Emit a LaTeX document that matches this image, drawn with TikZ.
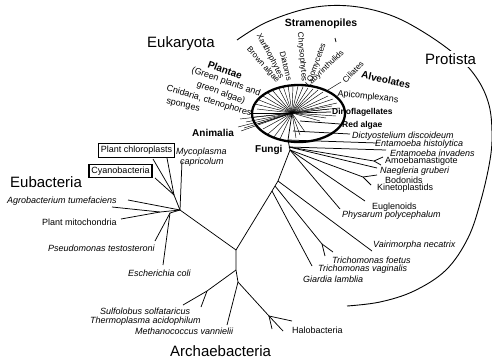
\documentclass[tikz,border=0pt]{standalone}
\usepackage{fontspec}
\setmainfont{Liberation Sans}
\begin{document}
\begin{tikzpicture}[x=1pt,y=-1pt,
  br/.style={line width=0.75pt},
  fan/.style={line width=0.45pt},
  sm/.style={font=\fontsize{9}{9}\selectfont, inner sep=0pt, anchor=west},
  smi/.style={font=\fontsize{9}{9}\selectfont\itshape, inner sep=0pt, anchor=west},
  smb/.style={font=\fontsize{8.5}{8.5}\selectfont\bfseries, inner sep=0pt, anchor=west},
  big/.style={font=\fontsize{15}{15}\selectfont, inner sep=0pt, anchor=west},
  bd/.style={font=\fontsize{10}{10}\selectfont\bfseries, inner sep=0pt},
  rt/.style={font=\fontsize{8}{8}\selectfont, inner sep=0pt},
  rt9/.style={font=\fontsize{9}{9}\selectfont, inner sep=0pt},
  boxed/.style={draw, line width=1.3pt, inner xsep=2.5pt, inner ysep=2.5pt, font=\fontsize{9}{9}\selectfont}
]
\useasboundingbox (0,0) rectangle (492,362);

% ---------- Protista arc ----------
\draw[line width=0.9pt] plot[smooth, tension=0.6] coordinates {(237,40) (267,22) (310,8) (350,6) (390,15) (425,33) (458,57) (478,80) (489,105) (492,133) (490,160) (481,200) (468,238) (446,270) (414,291) (380,302) (347,306)};

% ---------- Archaebacteria ----------
\coordinate (R) at (236,250);
\coordinate (A0) at (236,270);
\coordinate (A1) at (238,282);
\coordinate (S1) at (207,291);
\coordinate (tSul) at (183,305);
\coordinate (tThe) at (201,307);
\coordinate (tMet) at (227,325);
\coordinate (H) at (269,316);
\coordinate (tH1) at (292,321);
\coordinate (tH2) at (283,331);
\coordinate (tH3) at (272,329);
\draw[br] (R) -- (A0) -- (A1) -- (tMet);
\draw[br] (A0) -- (S1) -- (tSul);
\draw[br] (S1) -- (tThe);
\draw[br] (A1) -- (H) -- (tH1);
\draw[br] (H) -- (tH2);
\draw[br] (H) -- (tH3);

% ---------- Eubacteria ----------
\coordinate (E0) at (180,210);
\coordinate (P) at (170,213);
\coordinate (tPse) at (155,241);
\coordinate (tEco) at (163,265);
\coordinate (tAgr) at (128,200);
\coordinate (P2) at (160,212);
\coordinate (tPm) at (112,207);
\coordinate (tPm2) at (121,219);
\coordinate (C) at (174,195);
\coordinate (tC1) at (153,159);
\coordinate (tC2) at (167,158);
\coordinate (tC3) at (155,178);
\coordinate (tMyc) at (182,161);
\draw[br] (R) -- (E0) -- (tAgr);
\draw[br] (E0) -- (P2) -- (tPm);
\draw[br] (P2) -- (tPm2);
\draw[br] (E0) -- (P) -- (tPse);
\draw[br] (P) -- (tEco);
\draw[br] (E0) -- (C) -- (tC1);
\draw[br] (C) -- (tC2);
\draw[br] (C) -- (tC3);
\draw[br] (E0) -- (tMyc);

% ---------- Eukaryota stem ----------
\coordinate (K1) at (272,191);
\coordinate (K1b) at (275,186);
\coordinate (K2) at (278,181);
\coordinate (K3) at (290,150);
\coordinate (K3b) at (289,147);
\coordinate (K4) at (288,140);
\coordinate (O) at (292,113);
\draw[br] (R) -- (K1) -- (K2) -- (K3) -- (K4) -- (O);
\coordinate (tGia) at (312,266);
\draw[br] (K1) -- (tGia);
\coordinate (TF) at (322,244);
\coordinate (tTf1) at (325,256);
\coordinate (tTf2) at (333,252);
\draw[br] (K1b) -- (TF) -- (tTf1);
\draw[br] (TF) -- (tTf2);
\coordinate (tVai) at (372,251);
\draw[br] (K2) -- (tVai);
\coordinate (tPhy) at (340,209);
\draw[br] (K3) -- (tPhy);
\coordinate (tEug) at (365,201);
\draw[br] (K3) -- (tEug);
\coordinate (KF) at (363,177);
\coordinate (tK1) at (377,175);
\coordinate (tK2) at (371,185);
\draw[br] (K3) -- (KF) -- (tK1);
\draw[br] (KF) -- (tK2);
\coordinate (tNae) at (377,168);
\draw[br] (K3b) -- (tNae);
\coordinate (AF) at (374,161);
\coordinate (tAm1) at (383,157);
\coordinate (tAm2) at (381,165);
\draw[br] (K3b) -- (AF) -- (tAm1);
\draw[br] (AF) -- (tAm2);
\coordinate (tEi) at (386,150);
\coordinate (tEh) at (377,143);
\draw[br] (K3b) -- (tEi);
\draw[br] (K4) -- (tEh);
\coordinate (D0) at (293,131);
\coordinate (tDic) at (350,134);
\draw[br] (D0) -- (tDic);
\coordinate (RA0) at (300,121);
\coordinate (tRed) at (340,124);
\draw[br] (RA0) -- (tRed);
\coordinate (tDin) at (331,112);
\draw[br] (O) -- (tDin);

% ---------- dense fan inside the ellipse ----------
\foreach \p in {(238,127),(241,131),(244,128),(240,119),(246,122),(250,113),(254,117),(258,124),(263,129),(268,134),(274,137),(280,139),
                (255,104),(259,100),(263,96),(268,93),(273,91),(257,109),
                (278,87),(283,86),(288,85),(293,85),(298,86),(303,87),(308,88),(313,89),(318,90),(323,92),
                (328,96),(333,99),(337,103),(332,106),(339,108),(329,109),(336,116),(326,118),(320,121),
                (300,135),(305,132),(296,138)}
  \draw[fan] (O) -- \p;
\coordinate (cil1) at (328,90);
\coordinate (cil2) at (341,82);
\draw[fan] (cil1) -- (cil2);
\coordinate (tick1) at (335,38);
\coordinate (tick2) at (336,42);
\draw[line width=0.8pt] (tick1) -- (tick2);

% ---------- big labels ----------
\node[big] (eukl) at (147,44) {Eukaryota};
\node[big] (eubl) at (10,182) {Eubacteria};
\node[big] (arcl) at (170,351) {Archaebacteria};
\node[big, fill=white, inner sep=2pt] (prol) at (423,59) {Protista};

% ---------- bold group labels ----------
\node[bd, font=\fontsize{10.5}{10.5}\selectfont\bfseries] (stra) at (321,24) {Stramenopiles};
\node[bd, anchor=west] (anim) at (192,133) {Animalia};
\node[bd, anchor=west] (fung) at (255,150) {Fungi};
\node[bd, rotate=-20] (plan) at (225,70) {Plantae};
\node[bd, rotate=-13] (alve) at (386,80) {Alveolates};

% ---------- Plantae / Animalia texts ----------
\node[rt9, rotate=-19] (gpl) at (226,82) {(Green plants and};
\node[rt9, rotate=-20] (gal) at (221,93) {green algae)};
\node[rt9, rotate=-17] (cni) at (209,101) {Cnidaria, ctenophores};
\node[rt9, rotate=-12] (spo) at (183,106) {sponges};

% ---------- Stramenopiles texts ----------
\node[rt, rotate=-48] (bro) at (263,65) {Brown algae};
\node[rt, rotate=-62] (xan) at (270,56) {Xanthophytes};
\node[rt, rotate=-76] (dia) at (286,66) {Diatoms};
\node[rt, rotate=-85] (chr) at (302,57) {Chrysophytes};
\node[rt, rotate=70] (oom) at (317,63) {Oomycetes};
\node[rt, rotate=44] (lab) at (325,69) {Labyrinthulids};
\node[rt, rotate=45] (cil) at (353,72) {Ciliates};

% ---------- Protist texts ----------
\node[rt9, rotate=-6] (api) at (368,97) {Apicomplexans};
\node[smb] (din) at (332,112) {Dinoflagellates};
\node[smb] (red) at (342,125) {Red algae};
\node[smi] (dic) at (352,136) {Dictyostelium discoideum};
\node[smi] (enh) at (375,144) {Entamoeba histolytica};
\node[smi] (eni) at (390,153) {Entamoeba invadens};
\node[sm] (amo) at (385,161) {Amoebamastigote};
\node[smi] (nae) at (380,171) {Naegleria gruberi};
\node[sm] (bod) at (385,180) {Bodonids};
\node[sm] (kin) at (377,188) {Kinetoplastids};
\node[sm] (eug) at (372,207) {Euglenoids};
\node[smi] (phy) at (342,215) {Physarum polycephalum};
\node[smi] (vai) at (373,245) {Vairimorpha necatrix};
\node[smi] (trf) at (332,260) {Trichomonas foetus};
\node[smi] (trv) at (318,269) {Trichomonas vaginalis};
\node[smi] (gia) at (303,279) {Giardia lamblia};

% ---------- Archaebacteria texts ----------
\node[sm] (hal) at (292,330) {Halobacteria};
\node[smi] (sul) at (100,311) {Sulfolobus solfataricus};
\node[smi] (the) at (90,321) {Thermoplasma acidophilum};
\node[smi] (met) at (135,331) {Methanococcus vannielii};

% ---------- Eubacteria texts ----------
\node[smi] (eco) at (128,273) {Escherichia coli};
\node[smi] (pse) at (48,248) {Pseudomonas testosteroni};
\node[sm] (pmi) at (42,222) {Plant mitochondria};
\node[smi] (agr) at (7,201) {Agrobacterium tumefaciens};
\node[smi] (myc) at (176,152) {Mycoplasma};
\node[smi] (cap) at (180,162) {capricolum};
\node[boxed, fill=white] (chl) at (136.5,150.5) {Plant chloroplasts};
\node[boxed, fill=white] (cya) at (120.5,171) {Cyanobacteria};

% ---------- highlighted ellipse ----------
\draw[line width=2.3pt] (298.5,113.5) ellipse [x radius=46.5, y radius=28.5];
\end{tikzpicture}
\end{document}
